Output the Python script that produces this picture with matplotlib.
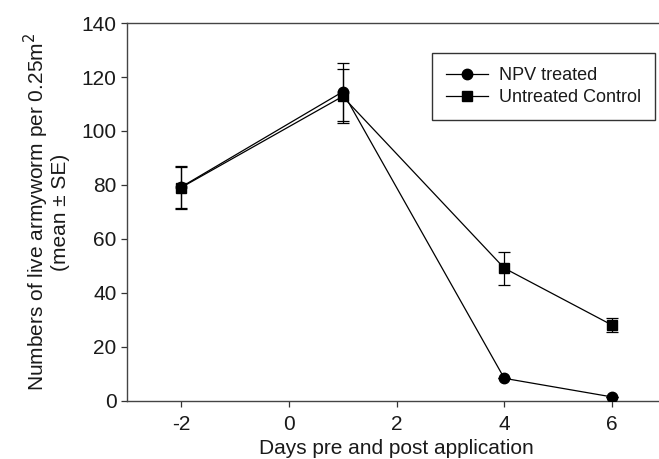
import numpy as np
import matplotlib.pyplot as plt
from matplotlib.lines import Line2D

plt.rcParams['font.family'] = ['Liberation Sans', 'DejaVu Sans']
plt.rcParams['axes.unicode_minus'] = False

# data
days = [-2, 1, 4, 6]
npv_mean = [79.2, 114.5, 8.4, 1.5]
npv_se = [7.8, 10.8, 0.0, 0.0]
ctrl_mean = [79.0, 112.8, 49.2, 28.1]
ctrl_se = [7.8, 10.0, 6.1, 2.7]

fig = plt.figure(figsize=(6.59, 4.59), dpi=100)
W, H = 659.0, 459.0
# axes runs off the right edge, like the cropped original
x0, x1 = 127.0, 666.0
y0, y1 = 401.0, 23.0
ax = fig.add_axes([x0 / W, 1 - y0 / H, (x1 - x0) / W, (y0 - y1) / H])

ax.errorbar(days, npv_mean, yerr=npv_se, color='black', lw=0.9, marker='o',
            markersize=7.5, capsize=4, elinewidth=0.9, capthick=0.9, zorder=3)
ax.errorbar(days, ctrl_mean, yerr=ctrl_se, color='black', lw=0.9, marker='s',
            markersize=6.5, capsize=4, elinewidth=0.9, capthick=0.9, zorder=3)

ax.set_xlim(-3, 7)
ax.set_ylim(0, 140)
ax.set_xticks([-2, 0, 2, 4, 6])
ax.set_yticks(np.arange(0, 141, 20))
ax.tick_params(labelsize=15, direction='out', length=4, width=0.9,
               color='#333333', labelcolor='#1a1a1a')
ax.tick_params(axis='x', pad=6)

for s in ax.spines.values():
    s.set_color('#444444')
    s.set_linewidth(1.0)

ax.set_xlabel('Days pre and post application', fontsize=15, labelpad=4,
              color='#1a1a1a')
ax.set_ylabel('Numbers of live armyworm per 0.25m$^2$\n(mean ± SE)',
              fontsize=15, labelpad=8, linespacing=1.05, color='#1a1a1a')

handles = [Line2D([], [], color='black', lw=0.9, marker='o', markersize=7.5),
           Line2D([], [], color='black', lw=0.9, marker='s', markersize=6.5)]
labels = ['NPV treated', 'Untreated Control']
leg = ax.legend(handles, labels, loc='upper left',
                bbox_to_anchor=((432 - x0) / (x1 - x0), (y0 - 53) / (y0 - y1)),
                fontsize=13, frameon=True, fancybox=False, edgecolor='black',
                handlelength=2.3, handletextpad=0.6, borderpad=0.8,
                labelspacing=0.25, borderaxespad=0)
leg.get_frame().set_linewidth(1.0)
for t in leg.get_texts():
    t.set_color('#1a1a1a')

fig.savefig('out.png', dpi=100)
